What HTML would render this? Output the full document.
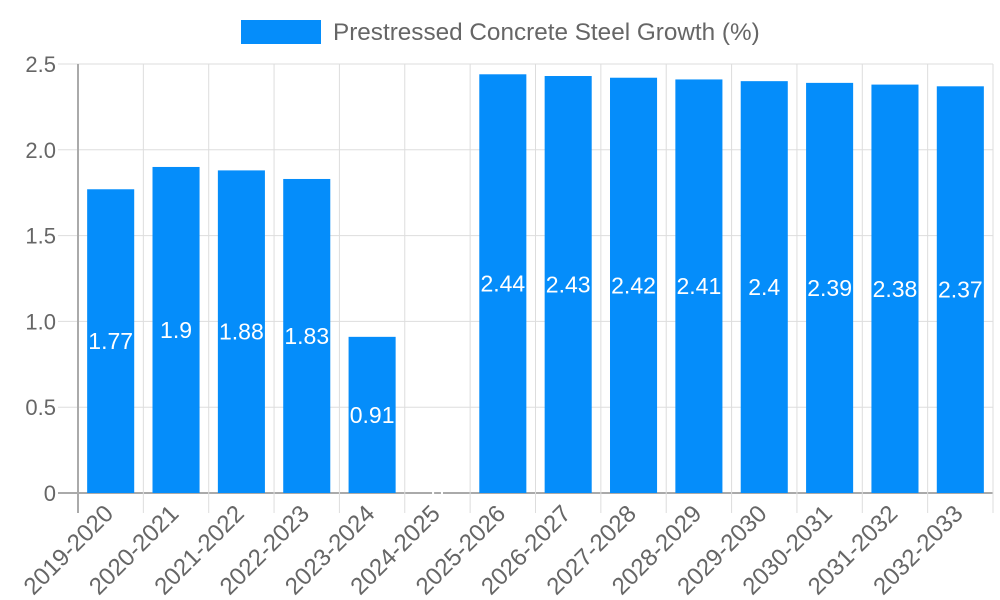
<!DOCTYPE html>
<html><head><meta charset="utf-8"><style>
body{margin:0;background:#fff;}
svg{display:block;font-family:"Liberation Sans",sans-serif;}
</style></head><body>
<svg id="chart" width="1000" height="600">
<g>
<rect x="241" y="20" width="80" height="24" fill="#058DFA"></rect>
<text x="333" y="40" font-size="24.3" fill="#666">Prestressed Concrete Steel Growth (%)</text>
</g>
<g id="grid"></g><g id="bars"></g><g id="labels"></g>
</svg>
<script>
const categories=["2019-2020","2020-2021","2021-2022","2022-2023","2023-2024","2024-2025","2025-2026","2026-2027","2027-2028","2028-2029","2029-2030","2030-2031","2031-2032","2032-2033"];
const values=[1.77,1.9,1.88,1.83,0.91,0,2.44,2.43,2.42,2.41,2.4,2.39,2.38,2.37];
const yTicks=[0,0.5,1,1.5,2,2.5];
const yTickLabels=["0","0.5","1.0","1.5","2.0","2.5"];
const L=78,R=993,T=64,B=493,yMax=2.5;
const cw=(R-L)/categories.length;
const y=v=>B-(v/yMax)*(B-T);
const xs=i=>L+i*cw;
const NS="http://www.w3.org/2000/svg";
function mk(tag,attrs,parent,txt){const e=document.createElementNS(NS,tag);for(const k in attrs)e.setAttribute(k,attrs[k]);if(txt!==undefined)e.textContent=txt;document.getElementById(parent).appendChild(e);return e;}
yTicks.forEach((t,i)=>{
 const g=mk('line',{x1:L-20,x2:R,y1:y(t),y2:y(t),stroke:i==0?'#aaa':'#ddd','stroke-width':i==0?2:1},'grid');
 
 
 const tl=mk('text',{x:L-22,y:y(t)+8,'text-anchor':'end','font-size':22,fill:'#666'},'grid',yTickLabels[i]);
 
 
});
for(let i=0;i<=categories.length;i++){
 const g=mk('line',{x1:xs(i),x2:xs(i),y1:T,y2:B+20,stroke:i==0?'#aaa':'#ddd','stroke-width':i==0?2:1},'grid');
 
 
}
categories.forEach((c,i)=>{
 const bw=cw*0.72, bx=xs(i)+(cw-bw)/2, v=values[i];
 const r=mk('rect',{x:bx,y:y(v),width:bw,height:B-y(v),fill:'#058DFA'},'bars');
 
 
 const cx=xs(i)+cw/2;
 const vl=mk('text',{x:cx,y:(y(v)+B)/2+8,'text-anchor':'middle','font-size':23,fill:'#fff'},'labels',String(v));
 
 
 const xl=mk('text',{x:cx+4,y:B+22,'text-anchor':'end','font-size':24,fill:'#666',transform:`rotate(-45 ${cx+4} ${B+22})`},'labels',c);
 
 
});
</script>
</body></html>
